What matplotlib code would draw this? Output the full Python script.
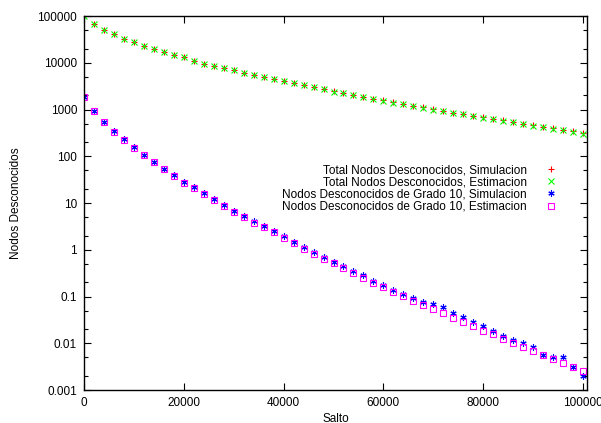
import matplotlib
matplotlib.use("Agg")
from matplotlib import pyplot as plt
from matplotlib.ticker import LogLocator, NullFormatter, FixedLocator

plt.rcParams['font.family'] = ['Liberation Sans', 'DejaVu Sans']

salto = list(range(0, 100001, 2000))

total_sim = [100000, 69000, 51400, 40800, 32500, 27500, 23400, 19900, 16800, 14500,
             13100, 11100, 9600, 8600, 7780, 6920, 6170, 5510, 4900, 4440,
             4020, 3640, 3300, 2990, 2710, 2450, 2270, 2050, 1860, 1710,
             1570, 1430, 1320, 1210, 1110, 1010, 933, 859, 806, 740,
             681, 638, 589, 543, 499, 468, 431, 396, 372, 342, 318]
total_est = [100000, 68500, 51200, 40600, 32400, 27300, 23300, 19800, 16700, 14400,
             13000, 11050, 9550, 8560, 7740, 6890, 6140, 5480, 4880, 4420,
             4000, 3620, 3280, 2970, 2690, 2430, 2250, 2030, 1845, 1695,
             1555, 1415, 1305, 1195, 1095, 998, 920, 846, 790, 727,
             668, 624, 575, 530, 487, 455, 418, 384, 360, 331, 305]
g10_sim = [1870, 940, 548, 344, 229, 157, 108, 76.5, 54.2, 39.0,
           28.3, 21.8, 16.3, 12.1, 9.0, 6.87, 5.2, 4.03, 3.24, 2.54,
           1.93, 1.48, 1.13, 0.885, 0.703, 0.56, 0.447, 0.35, 0.282, 0.217,
           0.173, 0.141, 0.116, 0.0937, 0.0782, 0.0688, 0.0593, 0.0441, 0.0362, 0.0287,
           0.0236, 0.0187, 0.0144, 0.0116, 0.0102, 0.0082, 0.00565, 0.00504, 0.00504, 0.00313, 0.0020]
g10_est = [1850, 925, 538, 338, 225, 153, 105.5, 74.5, 52.8, 38.0,
           27.5, 21.0, 15.6, 11.6, 8.6, 6.55, 4.95, 3.8, 3.05, 2.38,
           1.8, 1.38, 1.05, 0.815, 0.648, 0.512, 0.407, 0.318, 0.255, 0.196,
           0.156, 0.127, 0.104, 0.0809, 0.0655, 0.0537, 0.0441, 0.0355, 0.0283, 0.0232,
           0.0187, 0.0154, 0.0122, 0.0100, 0.0084, 0.0068, 0.00565, 0.00457, 0.00386, 0.00313, 0.0026]

labels = ["Total Nodos Desconocidos, Simulacion",
          "Total Nodos Desconocidos, Estimacion",
          "Nodos Desconocidos de Grado 10, Simulacion",
          "Nodos Desconocidos de Grado 10, Estimacion"]

fig = plt.figure(figsize=(6.01, 4.23), dpi=100)
ax = fig.add_axes([0.1398, 0.078, 0.8369, 0.884])

ms = 4.0
ax.plot(salto, total_sim, linestyle="none", marker="+", color="#ff0000", ms=ms + 0.5, mew=0.8, label=labels[0])
ax.plot(salto, total_est, linestyle="none", marker="x", color="#00ff00", ms=ms, mew=0.8, label=labels[1])
ax.plot(salto, g10_sim, linestyle="none", marker=(6, 2, 0), color="#0000ff", ms=ms + 0.5, mew=0.8, label=labels[2])
ax.plot(salto, g10_est, linestyle="none", marker="s", mfc="none", mec="#ff00ff", ms=ms, mew=0.8, label=labels[3])

ax.set_yscale("log")
ax.set_xlim(0, 100800)
ax.set_ylim(0.001, 100000)
ax.xaxis.set_major_locator(FixedLocator([0, 20000, 40000, 60000, 80000, 100000]))
ax.yaxis.set_minor_locator(LogLocator(base=10, subs=[2, 5], numticks=20))
ax.yaxis.set_minor_formatter(NullFormatter())
ax.set_yticks([0.001, 0.01, 0.1, 1, 10, 100, 1000, 10000, 100000])
ax.set_yticklabels(["0.001", "0.01", "0.1", "1", "10", "100", "1000", "10000", "100000"])
ax.set_xticklabels(["0", "20000", "40000", "60000", "80000", "100000"])

ax.tick_params(which="both", direction="in", top=True, right=True, labelsize=8.5, width=0.8)
ax.tick_params(which="major", length=5, pad=5)
ax.tick_params(which="minor", length=3)
for s in ax.spines.values():
    s.set_linewidth(1.0)

ax.set_xlabel("Salto", fontsize=8.5, labelpad=3)
ax.set_ylabel("Nodos Desconocidos", fontsize=8.5, labelpad=11)

ax.legend(loc="upper right", bbox_to_anchor=(0.955, 0.62), frameon=False, markerfirst=False,
          fontsize=8.5, handlelength=1.2, handletextpad=1.5, labelspacing=0.02, borderpad=0)

fig.savefig("out.png", dpi=100)
